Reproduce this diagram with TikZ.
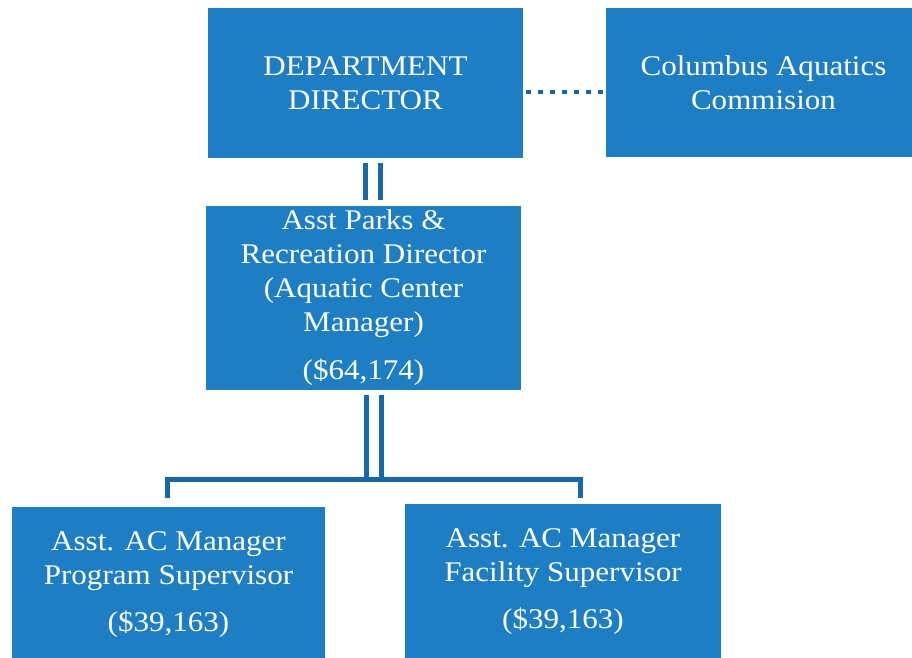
\documentclass[tikz,border=0pt]{standalone}
\usepackage{fontspec}
\setmainfont[FakeStretch=1.09]{Liberation Serif}
\definecolor{boxblue}{RGB}{30,126,196}
\definecolor{lineblue}{RGB}{22,104,172}
\begin{document}
\begin{tikzpicture}[x=1pt,y=-1pt,
  orgbox/.style={fill=boxblue, draw=none, inner sep=0pt, align=center, text=white,
     font=\fontsize{28.5}{34}\selectfont},
  conn/.style={draw=lineblue, line width=5pt, line cap=butt, line join=miter},
  dotconn/.style={draw=lineblue, line width=4.5pt, dash pattern=on 4.5pt off 7.5pt}]
\useasboundingbox (0,0) rectangle (912,657);
\clip (0,0) rectangle (912,657);
\node[orgbox, minimum width=315pt, minimum height=150pt] (dd) at (365.5,83) {DEPARTMENT\\DIRECTOR};
\node[orgbox, minimum width=315pt, minimum height=149pt] (cac) at (763.5,82.5) {Columbus Aquatics\\Commision};
\node[orgbox, minimum width=315pt, minimum height=184pt] (asst) at (363.5,298) {Asst Parks \&\\Recreation Director\\(Aquatic Center\\Manager)\\[14pt](\$64,174)};
\node[orgbox, minimum width=313pt, minimum height=155pt] (bl) at (168.5,584.5) {Asst. AC Manager\\Program Supervisor\\[13pt](\$39,163)};
\node[orgbox, minimum width=316pt, minimum height=156pt] (br) at (563,582) {Asst. AC Manager\\Facility Supervisor\\[13pt](\$39,163)};
% dotted link
\draw[dotconn] ([xshift=3pt,yshift=-9pt]dd.east) -- ([yshift=-9.5pt]cac.west);
% double line director -> asst
\draw[conn] ([xshift=-0.5pt,yshift=-5pt]dd.south) -- ([xshift=1.5pt,yshift=6pt]asst.north);
\draw[conn] ([xshift=14.5pt,yshift=-5pt]dd.south) -- ([xshift=16.5pt,yshift=6pt]asst.north);
% double line asst -> bar
\coordinate (j1) at ([xshift=2.5pt,yshift=-89pt]asst.south);
\coordinate (j2) at ([xshift=17.5pt,yshift=-89pt]asst.south);
\draw[conn] ([xshift=2.5pt,yshift=-5pt]asst.south) -- (j1);
\draw[conn] ([xshift=17.5pt,yshift=-5pt]asst.south) -- (j2);
% bar
\draw[conn] ([xshift=-1.5pt,yshift=9pt]bl.north) |- (j1) -- (j2) -| ([xshift=17pt,yshift=6pt]br.north);
\end{tikzpicture}
\end{document}
